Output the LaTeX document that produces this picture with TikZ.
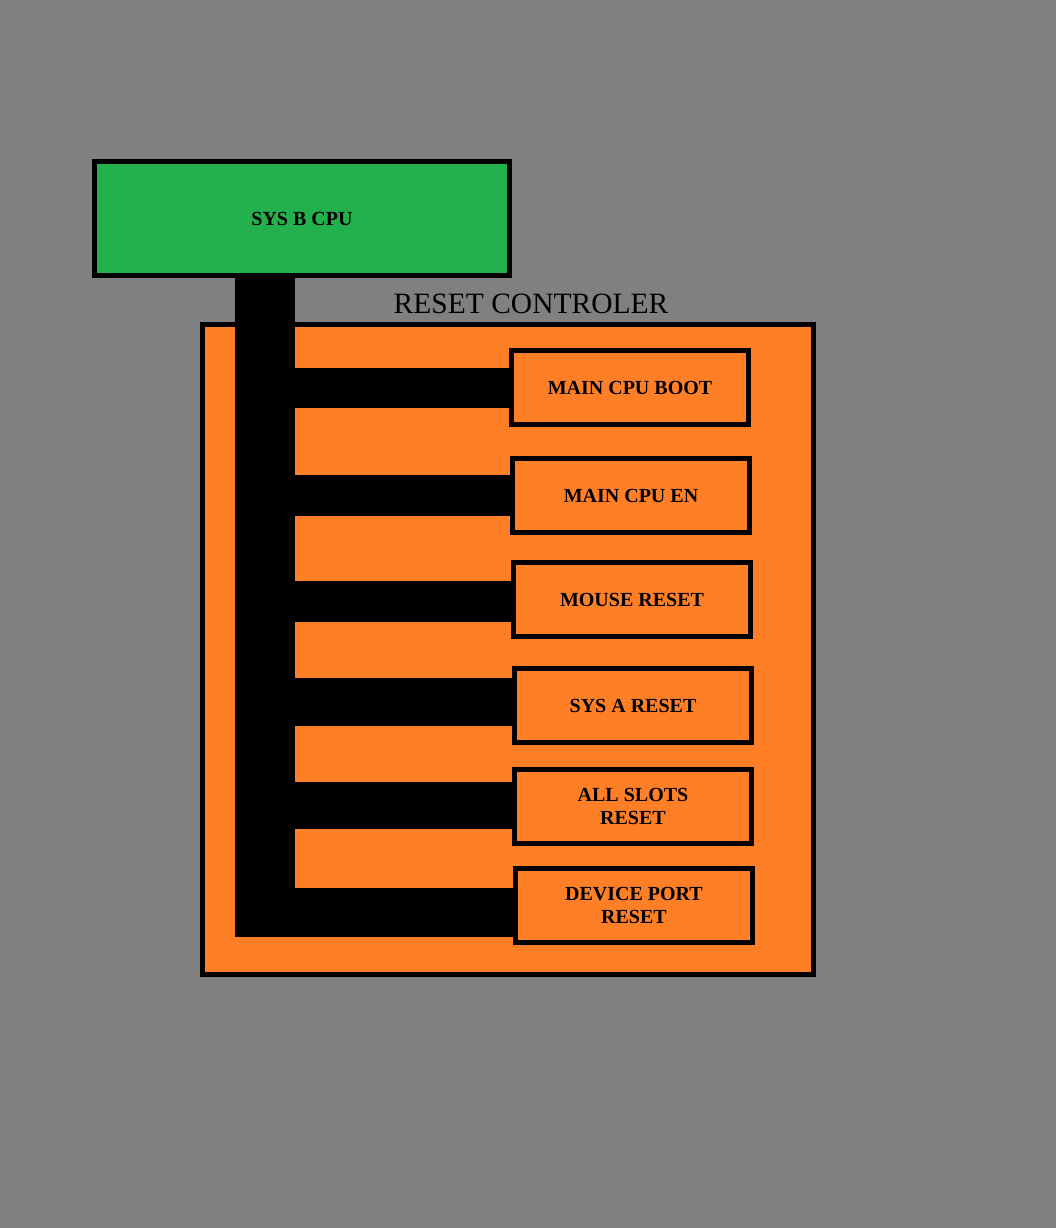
\documentclass[tikz,border=0pt]{standalone}
\usepackage{fontspec}
\setmainfont{Liberation Serif}
\definecolor{bggray}{RGB}{128,128,128}
\definecolor{cpugreen}{RGB}{34,177,76}
\definecolor{ctrlorange}{RGB}{255,127,39}
\begin{document}
\begin{tikzpicture}[x=1pt,y=-1pt,
  frame/.style={draw=black,line width=5pt},
  resetbox/.style={frame,fill=ctrlorange,minimum width=237pt,minimum height=74pt,
    inner sep=0pt,align=center,font=\bfseries\fontsize{20}{23}\selectfont},
  bus/.style={draw=black,line cap=butt}]
\useasboundingbox (0,0) rectangle (1056,1228);
\fill [bggray] (0,0) rectangle (1056,1228);
% controller
\node [frame,fill=ctrlorange,minimum width=611pt,minimum height=650pt] (ctrl) at (508,649.5) {};
\node (title) at (531,304) {\fontsize{29.5}{32}\selectfont RESET CONTROLER};
% cpu
\node [frame,fill=cpugreen,minimum width=415pt,minimum height=114pt,
  font=\bfseries\fontsize{20}{23}\selectfont] (cpu) at (302,218.5) {SYS B CPU};
\coordinate (bustop) at (265,278);
\coordinate (busend) at (265,937);
\draw [bus,line width=60pt] (bustop) -- (busend);
% reset outputs
\node [resetbox] (boot) at (630,387.5) {MAIN CPU BOOT};
\node [resetbox] (en) at (631,495.5) {MAIN CPU EN};
\node [resetbox] (mouse) at (632,599.5) {MOUSE RESET};
\node [resetbox] (sysa) at (633,705.5) {SYS A RESET};
\node [resetbox] (slots) at (633,806.5) {ALL SLOTS\\RESET};
\node [resetbox] (port) at (634,905.5) {DEVICE PORT\\RESET};
\foreach \y/\w/\n in {388/40/boot,495.5/41/en,601.5/41/mouse,702/48/sysa,805.5/47/slots,912.5/49/port}
{
  \coordinate (bus\n) at (265,\y);
  \draw [bus,line width=\w pt] (bus\n) -- (\n.west |- bus\n);
}
\end{tikzpicture}
\end{document}
